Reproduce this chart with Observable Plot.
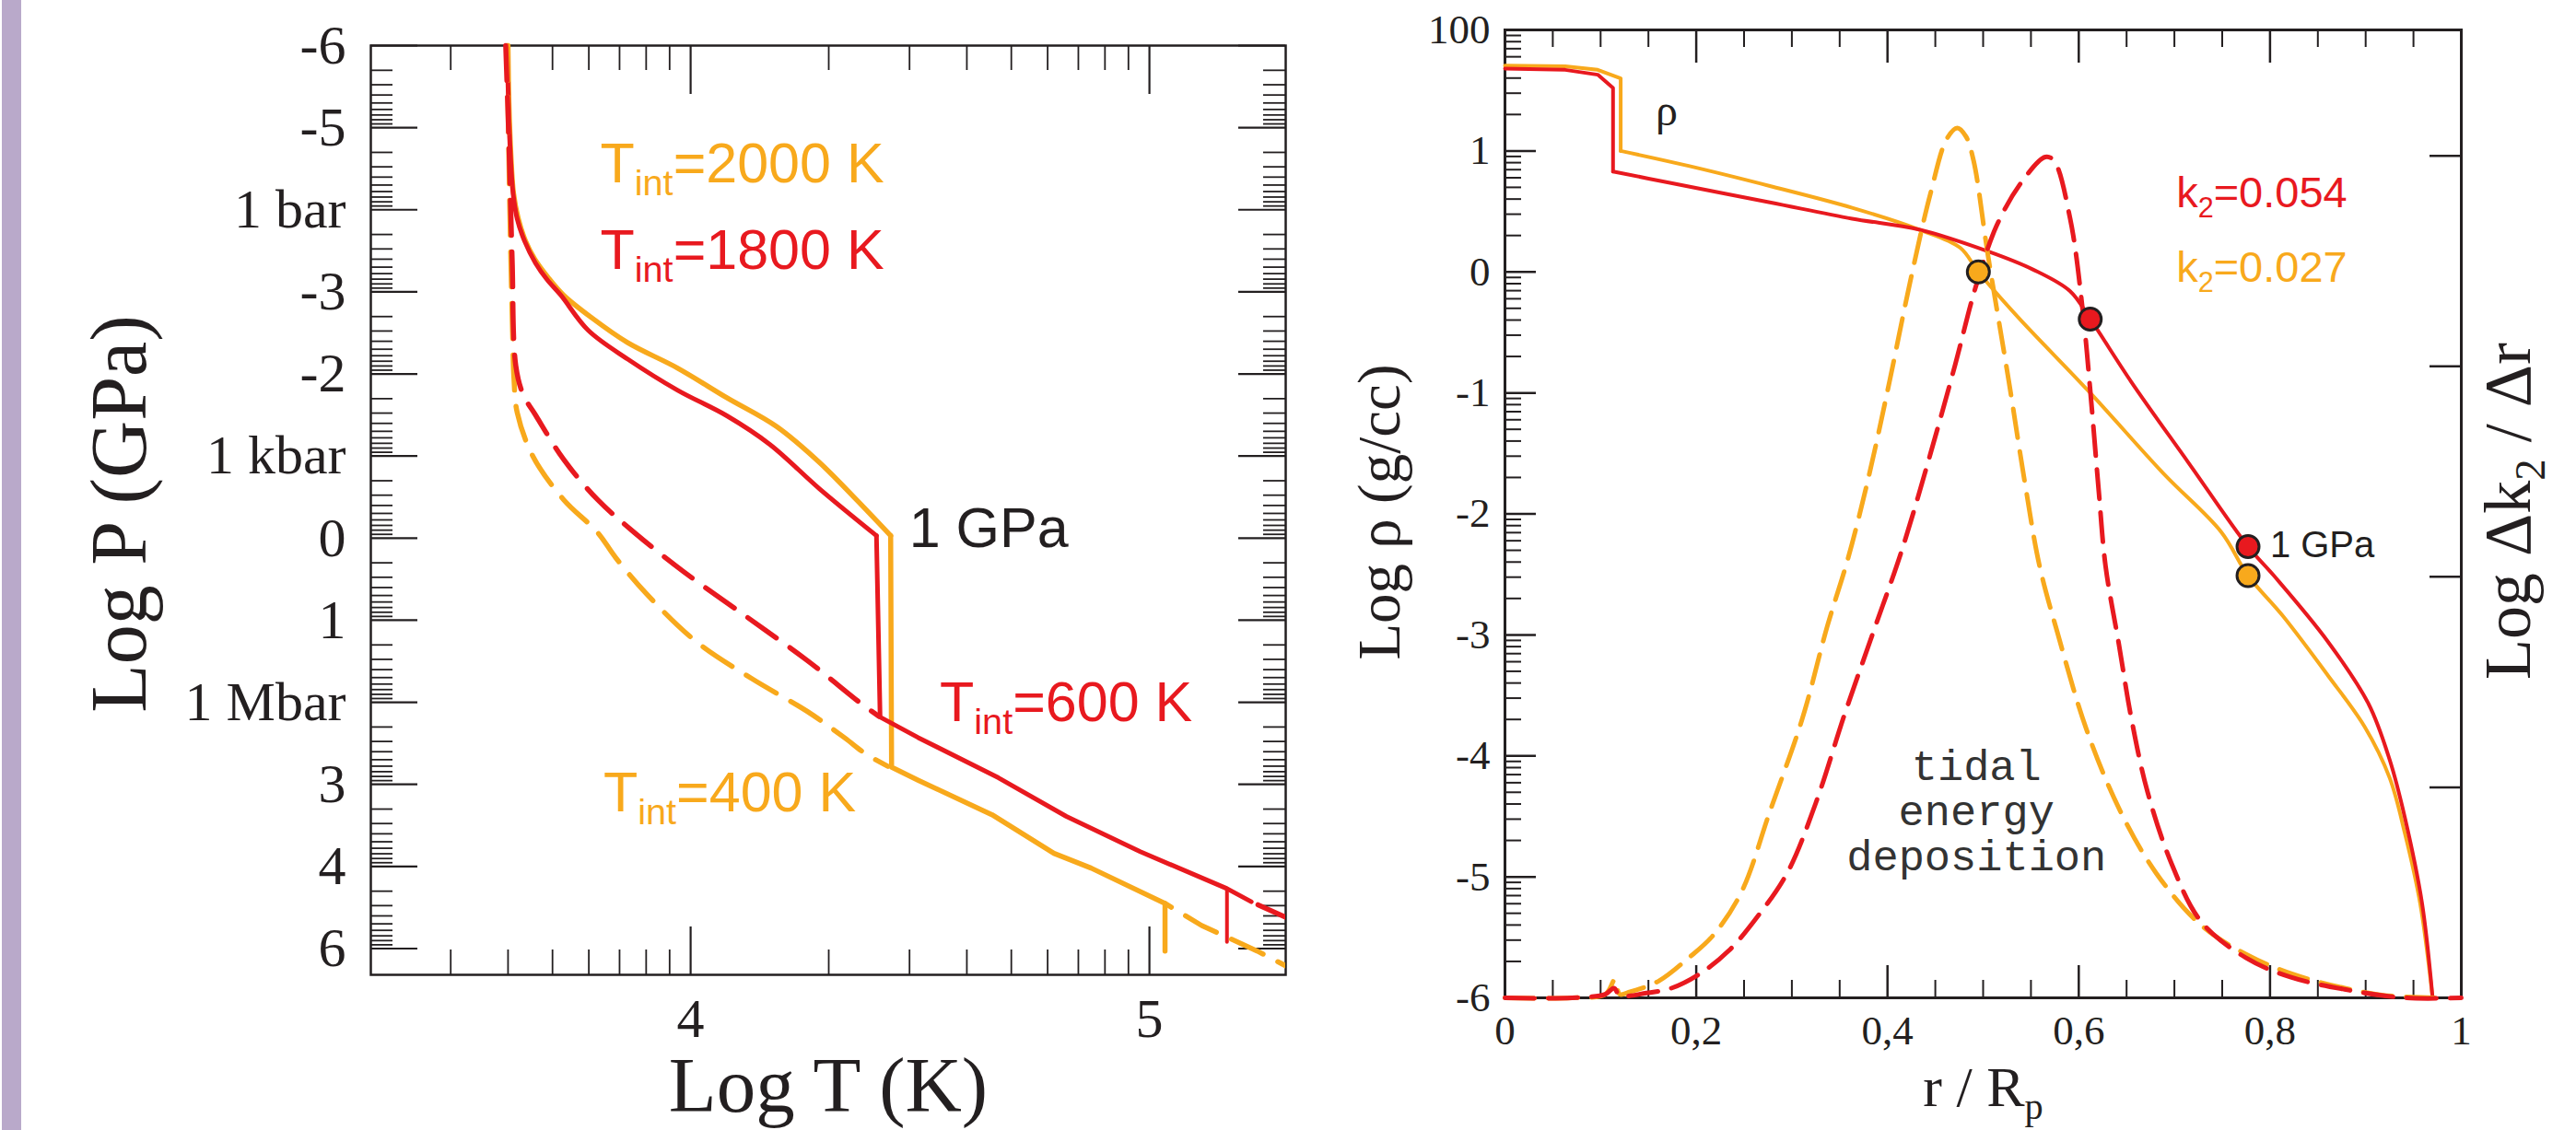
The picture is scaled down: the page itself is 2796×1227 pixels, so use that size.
<!DOCTYPE html>
<html>
<head>
<meta charset="utf-8">
<script src="https://cdn.jsdelivr.net/npm/d3@7"></script>
<script src="https://cdn.jsdelivr.net/npm/@observablehq/plot@0.6"></script>
<style>
  html, body { margin: 0; padding: 0; background: #fff; }
  #page { position: relative; width: 2796px; height: 1227px; overflow: hidden; background: #fff; }
  #bar { position: absolute; left: 2px; top: 0; width: 21px; height: 1227px; background: #b9a9ca; }
  #left { position: absolute; left: 0; top: 0; }
  #right { position: absolute; left: 1430px; top: 0; }
</style>
</head>
<body>
<div id="page"><div id="bar"></div><div id="left"></div><div id="right"></div></div>
<script>
// ---------------- LEFT PANEL DATA (Log T [K], Log P [GPa]) ----------------
const tint2000Upper = [[3.602,-6],[3.604,-5.3],[3.608,-4.7],[3.614,-4.2],[3.624,-3.9],[3.64,-3.62],[3.66,-3.4],[3.69,-3.17],[3.723,-2.96],[3.783,-2.69],[3.863,-2.38],[3.972,-2.07],[4.079,-1.71],[4.187,-1.36],[4.281,-0.92],[4.361,-0.47],[4.436,-0.03]];
const tint2000Lower = [[4.436,-0.03],[4.438,2.79],[4.496,2.95],[4.657,3.37],[4.792,3.84],[4.873,4.02],[5.034,4.45],[5.034,5.03]];
const tint1800Upper = [[3.600,-6],[3.603,-5.3],[3.607,-4.7],[3.613,-4.2],[3.622,-3.89],[3.638,-3.62],[3.662,-3.35],[3.687,-3.15],[3.717,-2.96],[3.777,-2.53],[3.863,-2.18],[3.972,-1.80],[4.079,-1.49],[4.173,-1.14],[4.281,-0.60],[4.405,-0.03]];
const tint1800Lower = [[4.405,-0.03],[4.413,2.18],[4.496,2.43],[4.671,2.92],[4.819,3.39],[4.980,3.82],[5.169,4.27],[5.222,4.43]];
const tint1800Drop = [[5.169,4.27],[5.169,4.92]];
const tint600 = [[3.597,-6],[3.603,-5],[3.611,-3.4],[3.619,-2.1],[3.635,-1.75],[3.663,-1.49],[3.723,-0.96],[3.797,-0.47],[3.877,-0.07],[3.985,0.41],[4.12,0.95],[4.254,1.49],[4.375,2.03],[4.41,2.17]];
const tint600Tail = [[5.222,4.43],[5.297,4.62]];
const tint400 = [[3.600,-6],[3.606,-4],[3.612,-2.5],[3.615,-1.94],[3.622,-1.53],[3.656,-1.0],[3.723,-0.47],[3.797,-0.07],[3.837,0.24],[3.904,0.68],[4.012,1.26],[4.133,1.71],[4.254,2.11],[4.335,2.43],[4.382,2.63],[4.43,2.78]];
const tint400Tail = [[5.034,4.45],[5.114,4.72],[5.235,5.03],[5.297,5.21]];

const pTicks = [-6,-5,-4,-3,-2,-1,0,1,2,3,4,5];
const pTickLabels = ["-6","-5","1 bar","-3","-2","1 kbar","0","1","1 Mbar","3","4","6"];
const tTicks = [4,5];
const tTickLabels = ["4","5"];
const leftTitleY = "Log P (GPa)";
const leftTitleX = "Log T (K)";
const leftNotes = [
  {x:3.803, y:-4.33, text:"T_{int}=2000 K"},
  {x:3.803, y:-3.28, text:"T_{int}=1800 K"},
  {x:4.476, y:0.105, text:"1 GPa"},
  {x:4.543, y:2.227, text:"T_{int}=600 K"},
  {x:3.810, y:3.33,  text:"T_{int}=400 K"}
];

// ---------------- RIGHT PANEL DATA (r/Rp, Log rho) ----------------
const rhoK027Core = [[0,1.705],[0.063,1.70],[0.097,1.67],[0.121,1.60],[0.121,1.0]];
const rhoK027Env = [[0.121,1.0],[0.192,0.876],[0.277,0.71],[0.363,0.53],[0.433,0.35],[0.476,0.20],[0.495,0.0],[0.536,-0.37],[0.612,-1.0],[0.689,-1.67],[0.749,-2.15],[0.777,-2.51],[0.813,-2.84],[0.860,-3.33],[0.899,-3.76],[0.925,-4.18],[0.941,-4.64],[0.957,-5.22],[0.970,-6.0]];
const rhoK054Core = [[0,1.68],[0.063,1.67],[0.097,1.63],[0.113,1.52],[0.113,0.83]];
const rhoK054Env = [[0.113,0.83],[0.170,0.74],[0.277,0.575],[0.363,0.44],[0.433,0.35],[0.505,0.17],[0.552,0.02],[0.591,-0.16],[0.612,-0.39],[0.655,-0.91],[0.715,-1.58],[0.777,-2.27],[0.804,-2.51],[0.860,-3.05],[0.903,-3.57],[0.925,-4.03],[0.941,-4.51],[0.959,-5.22],[0.970,-6.0]];
const tidalK027 = [[0,-6],[0.07,-6],[0.105,-5.97],[0.115,-5.85],[0.12,-5.97],[0.131,-5.95],[0.161,-5.86],[0.192,-5.67],[0.217,-5.49],[0.247,-5.13],[0.277,-4.46],[0.311,-3.69],[0.337,-2.93],[0.359,-2.36],[0.381,-1.67],[0.402,-0.91],[0.424,-0.07],[0.445,0.65],[0.462,1.10],[0.473,1.19],[0.482,1.12],[0.490,0.92],[0.505,0.14],[0.527,-0.91],[0.544,-1.76],[0.559,-2.43],[0.578,-2.99],[0.608,-3.78],[0.643,-4.45],[0.681,-4.97],[0.728,-5.40],[0.775,-5.64],[0.822,-5.80],[0.878,-5.92],[0.920,-5.98],[0.972,-6.0]];
const tidalK054 = [[0,-6],[0.07,-6],[0.105,-5.97],[0.114,-5.92],[0.12,-5.98],[0.148,-5.96],[0.174,-5.92],[0.204,-5.80],[0.234,-5.61],[0.26,-5.37],[0.295,-4.97],[0.325,-4.39],[0.355,-3.66],[0.385,-2.98],[0.415,-2.3],[0.445,-1.5],[0.471,-0.76],[0.492,-0.13],[0.514,0.38],[0.540,0.74],[0.565,0.95],[0.574,0.92],[0.591,0.44],[0.604,-0.31],[0.613,-1.07],[0.621,-1.82],[0.628,-2.43],[0.642,-3.08],[0.655,-3.69],[0.672,-4.30],[0.698,-4.91],[0.728,-5.37],[0.775,-5.67],[0.822,-5.83],[0.878,-5.93],[0.941,-6.0],[1.0,-6.0]];
const dotsK027 = [[0.495,0.0],[0.777,-2.51]];
const dotsK054 = [[0.612,-0.39],[0.777,-2.27]];

const rTicks = [0,0.2,0.4,0.6,0.8,1];
const rTickLabels = ["0","0,2","0,4","0,6","0,8","1"];
const rhoTicks = [-6,-5,-4,-3,-2,-1,0,1,2];
const rhoTickLabels = ["-6","-5","-4","-3","-2","-1","0","1","100"];
const dk2Ticks = [1,2,3,4];           // unlabeled right-hand axis (Log Δk2/Δr)
const dk2ToRho = d => -6 + d * 1.74;  // secondary-axis mapping onto the left scale
const rightTitleY = "Log ρ (g/cc)";
const rightTitleY2 = "Log Δk_{2} / Δr";
const rightTitleX = "r / R_{p}";
const rightNotes = [
  {x:0.169, y:1.33,   text:"ρ"},
  {x:0.702, y:0.533,  text:"k_{2}=0.054"},
  {x:0.702, y:-0.084, text:"k_{2}=0.027"},
  {x:0.800, y:-2.361, text:"1 GPa"},
  {x:0.493, y:-4.943, text:"tidal\nenergy\ndeposition"}
];

// ---------------- styles ----------------
const ORANGE = "#f8a91c", RED = "#e8191f", INK = "#231f20";
const SERIF = "'Liberation Serif', 'Times New Roman', serif";
const SANS = "'Liberation Sans', Arial, sans-serif";
const MONO = "'Liberation Mono', 'Courier New', monospace";

// minor tick positions (log-style subdivisions and 0.05 steps)
const logSub = (from, to) => { const a = []; for (let n = from; n <= to; n++) for (let k = 2; k <= 9; k++) a.push(n + Math.log10(k)); return a; };
const pMinor = logSub(-6, 4);
const tMinor = logSub(3, 4).filter(v => v > 3.31 && v < 5.29);
const rhoMinor = logSub(-6, 1);
const rMinor = d3.range(1, 20).map(i => i * 0.05).filter(v => Math.abs(v * 5 - Math.round(v * 5)) > 1e-6);

const xy = {x: d => d[0], y: d => d[1]};
const lab = (ticks, labels) => d => labels[ticks.findIndex(t => Math.abs(t - d) < 1e-9)];

function subscripts(svg) {
  const NS = "http://www.w3.org/2000/svg";
  for (const el of svg.querySelectorAll("text, tspan")) {
    if (el.childElementCount) continue;
    const s = el.textContent;
    if (!s.includes("_{")) continue;
    const parts = s.split(/_\{([^}]*)\}/);
    el.textContent = "";
    let down = false;
    parts.forEach((p, i) => {
      if (!p) return;
      const ts = document.createElementNS(NS, "tspan");
      ts.textContent = p;
      if (i % 2 === 1) { ts.setAttribute("font-size", "65%"); ts.setAttribute("dy", "0.35em"); down = true; }
      else if (down) { ts.setAttribute("dy", "-0.2275em"); down = false; }
      el.appendChild(ts);
    });
  }
  return svg;
}

// ---------------- LEFT PLOT ----------------
const L = {W: 1430, H: 1227, ml: 402, mr: 35, mt: 49, mb: 169};
const lw = L.W - L.ml - L.mr, lh = L.H - L.mt - L.mb;
const leftColors = [ORANGE, RED, INK, RED, ORANGE];

const left = Plot.plot({
  width: L.W, height: L.H,
  marginLeft: L.ml, marginRight: L.mr, marginTop: L.mt, marginBottom: L.mb,
  x: {domain: [3.303, 5.297]},
  y: {domain: [-6, 5.32], reverse: true},
  color: {type: "identity"},
  style: {background: "transparent", fontFamily: SERIF, color: INK, overflow: "visible"},
  marks: [
    Plot.tickY(pMinor, {y: d => d, stroke: INK, strokeWidth: 1.8, insetRight: lw - 24}),
    Plot.tickY(pMinor, {y: d => d, stroke: INK, strokeWidth: 1.8, insetLeft: lw - 24}),
    Plot.tickY(pTicks, {y: d => d, stroke: INK, strokeWidth: 2.2, insetRight: lw - 51}),
    Plot.tickY(pTicks, {y: d => d, stroke: INK, strokeWidth: 2.2, insetLeft: lw - 51}),
    Plot.tickX(tMinor, {x: d => d, stroke: INK, strokeWidth: 1.8, insetTop: lh - 27}),
    Plot.tickX(tMinor, {x: d => d, stroke: INK, strokeWidth: 1.8, insetBottom: lh - 27}),
    Plot.tickX(tTicks, {x: d => d, stroke: INK, strokeWidth: 2.2, insetTop: lh - 52}),
    Plot.tickX(tTicks, {x: d => d, stroke: INK, strokeWidth: 2.2, insetBottom: lh - 53}),
    Plot.frame({stroke: INK, strokeWidth: 2.5}),
    Plot.axisY({ticks: pTicks, tickFormat: lab(pTicks, pTickLabels), tickSize: 0, tickPadding: 27, fontSize: 60, label: null, fill: INK}),
    Plot.axisX({ticks: tTicks, tickFormat: lab(tTicks, tTickLabels), tickSize: 0, tickPadding: 25, fontSize: 60, label: null, fill: INK}),
    Plot.text([leftTitleY], {text: d => d, frameAnchor: "left", textAnchor: "middle", dx: -272, dy: 4, rotate: -90, fontSize: 86, fill: INK}),
    Plot.text([leftTitleX], {text: d => d, frameAnchor: "bottom", textAnchor: "middle", dy: 148, lineAnchor: "bottom", fontSize: 85, fill: INK}),
    Plot.line(tint2000Upper, {...xy, stroke: ORANGE, strokeWidth: 5.5, curve: "catmull-rom"}),
    Plot.line(tint2000Lower, {...xy, stroke: ORANGE, strokeWidth: 5.5}),
    Plot.line(tint1800Upper, {...xy, stroke: RED, strokeWidth: 5, curve: "catmull-rom"}),
    Plot.line(tint1800Lower, {...xy, stroke: RED, strokeWidth: 5}),
    Plot.line(tint1800Drop, {...xy, stroke: RED, strokeWidth: 4}),
    Plot.line(tint400, {...xy, stroke: ORANGE, strokeWidth: 5.5, strokeDasharray: "38,18", curve: "catmull-rom"}),
    Plot.line(tint400Tail, {...xy, stroke: ORANGE, strokeWidth: 5.5, strokeDasharray: "38,18", strokeDashoffset: 30, clip: true}),
    Plot.line(tint600, {...xy, stroke: RED, strokeWidth: 5.5, strokeDasharray: "38,18", curve: "catmull-rom"}),
    Plot.line(tint600Tail, {...xy, stroke: RED, strokeWidth: 5.5, strokeDasharray: "38,18", strokeDashoffset: 48, clip: true}),
    Plot.text(leftNotes, {x: "x", y: "y", text: "text", fill: (d, i) => leftColors[i], textAnchor: "start", lineAnchor: "bottom", fontSize: 61, fontFamily: SANS})
  ]
});
document.getElementById("left").appendChild(subscripts(left));

// ---------------- RIGHT PLOT ----------------
const R = {W: 1366, H: 1227, ml: 203, mr: 125, mt: 32, mb: 144};
const rw = R.W - R.ml - R.mr, rh = R.H - R.mt - R.mb;

const right = Plot.plot({
  width: R.W, height: R.H,
  marginLeft: R.ml, marginRight: R.mr, marginTop: R.mt, marginBottom: R.mb,
  x: {domain: [0, 1]},
  y: {domain: [-6, 2]},
  color: {type: "identity"},
  style: {background: "transparent", fontFamily: SERIF, color: INK, overflow: "visible"},
  marks: [
    Plot.tickY(rhoMinor, {y: d => d, stroke: INK, strokeWidth: 2, insetRight: rw - 18}),
    Plot.tickY(rhoTicks, {y: d => d, stroke: INK, strokeWidth: 2.5, insetRight: rw - 34}),
    Plot.tickY(dk2Ticks, {y: dk2ToRho, stroke: INK, strokeWidth: 2.5, insetLeft: rw - 34}),
    Plot.tickX(rMinor, {x: d => d, stroke: INK, strokeWidth: 2, insetTop: rh - 19}),
    Plot.tickX(rMinor, {x: d => d, stroke: INK, strokeWidth: 2, insetBottom: rh - 19}),
    Plot.tickX(rTicks, {x: d => d, stroke: INK, strokeWidth: 2.5, insetTop: rh - 35}),
    Plot.tickX(rTicks, {x: d => d, stroke: INK, strokeWidth: 2.5, insetBottom: rh - 36}),
    Plot.frame({stroke: INK, strokeWidth: 3}),
    Plot.axisY({ticks: rhoTicks, tickFormat: lab(rhoTicks, rhoTickLabels), tickSize: 0, tickPadding: 16, fontSize: 45, label: null, fill: INK}),
    Plot.axisX({ticks: rTicks, tickFormat: lab(rTicks, rTickLabels), tickSize: 0, tickPadding: 19, fontSize: 45, label: null, fill: INK}),
    Plot.text([rightTitleY], {text: d => d, frameAnchor: "left", textAnchor: "middle", dx: -135, dy: -2, rotate: -90, fontSize: 65, fill: INK}),
    Plot.text([rightTitleY2], {text: d => d, frameAnchor: "right", textAnchor: "middle", dx: 51, dy: -3, rotate: -90, fontSize: 72, fill: INK}),
    Plot.text([rightTitleX], {text: d => d, frameAnchor: "bottom", textAnchor: "middle", dy: 117, lineAnchor: "bottom", fontSize: 62, fill: INK}),
    Plot.line(rhoK027Core, {...xy, stroke: ORANGE, strokeWidth: 4}),
    Plot.line(rhoK027Env, {...xy, stroke: ORANGE, strokeWidth: 4, curve: "catmull-rom"}),
    Plot.line(rhoK054Core, {...xy, stroke: RED, strokeWidth: 4}),
    Plot.line(rhoK054Env, {...xy, stroke: RED, strokeWidth: 4, curve: "catmull-rom"}),
    Plot.line(tidalK027, {...xy, stroke: ORANGE, strokeWidth: 5, strokeDasharray: "32,15", curve: "catmull-rom"}),
    Plot.line(tidalK054, {...xy, stroke: RED, strokeWidth: 5, strokeDasharray: "32,15", curve: "catmull-rom"}),
    Plot.dot(dotsK027, {...xy, r: 12, fill: ORANGE, stroke: INK, strokeWidth: 3}),
    Plot.dot(dotsK054, {...xy, r: 12, fill: RED, stroke: INK, strokeWidth: 3}),
    Plot.text([rightNotes[0]], {x: "x", y: "y", text: "text", fill: INK, fontSize: 48, fontFamily: SERIF}),
    Plot.text([rightNotes[1]], {x: "x", y: "y", text: "text", fill: RED, textAnchor: "start", lineAnchor: "bottom", fontSize: 47, fontFamily: SANS}),
    Plot.text([rightNotes[2]], {x: "x", y: "y", text: "text", fill: ORANGE, textAnchor: "start", lineAnchor: "bottom", fontSize: 47, fontFamily: SANS}),
    Plot.text([rightNotes[3]], {x: "x", y: "y", text: "text", fill: INK, textAnchor: "start", lineAnchor: "bottom", fontSize: 40, fontFamily: SANS}),
    Plot.text([rightNotes[4]], {x: "x", y: "y", text: "text", fill: "#333", textAnchor: "middle", lineAnchor: "bottom", lineHeight: 1.04, fontSize: 47, fontFamily: MONO})
  ]
});
document.getElementById("right").appendChild(subscripts(right));
</script>
</body>
</html>
